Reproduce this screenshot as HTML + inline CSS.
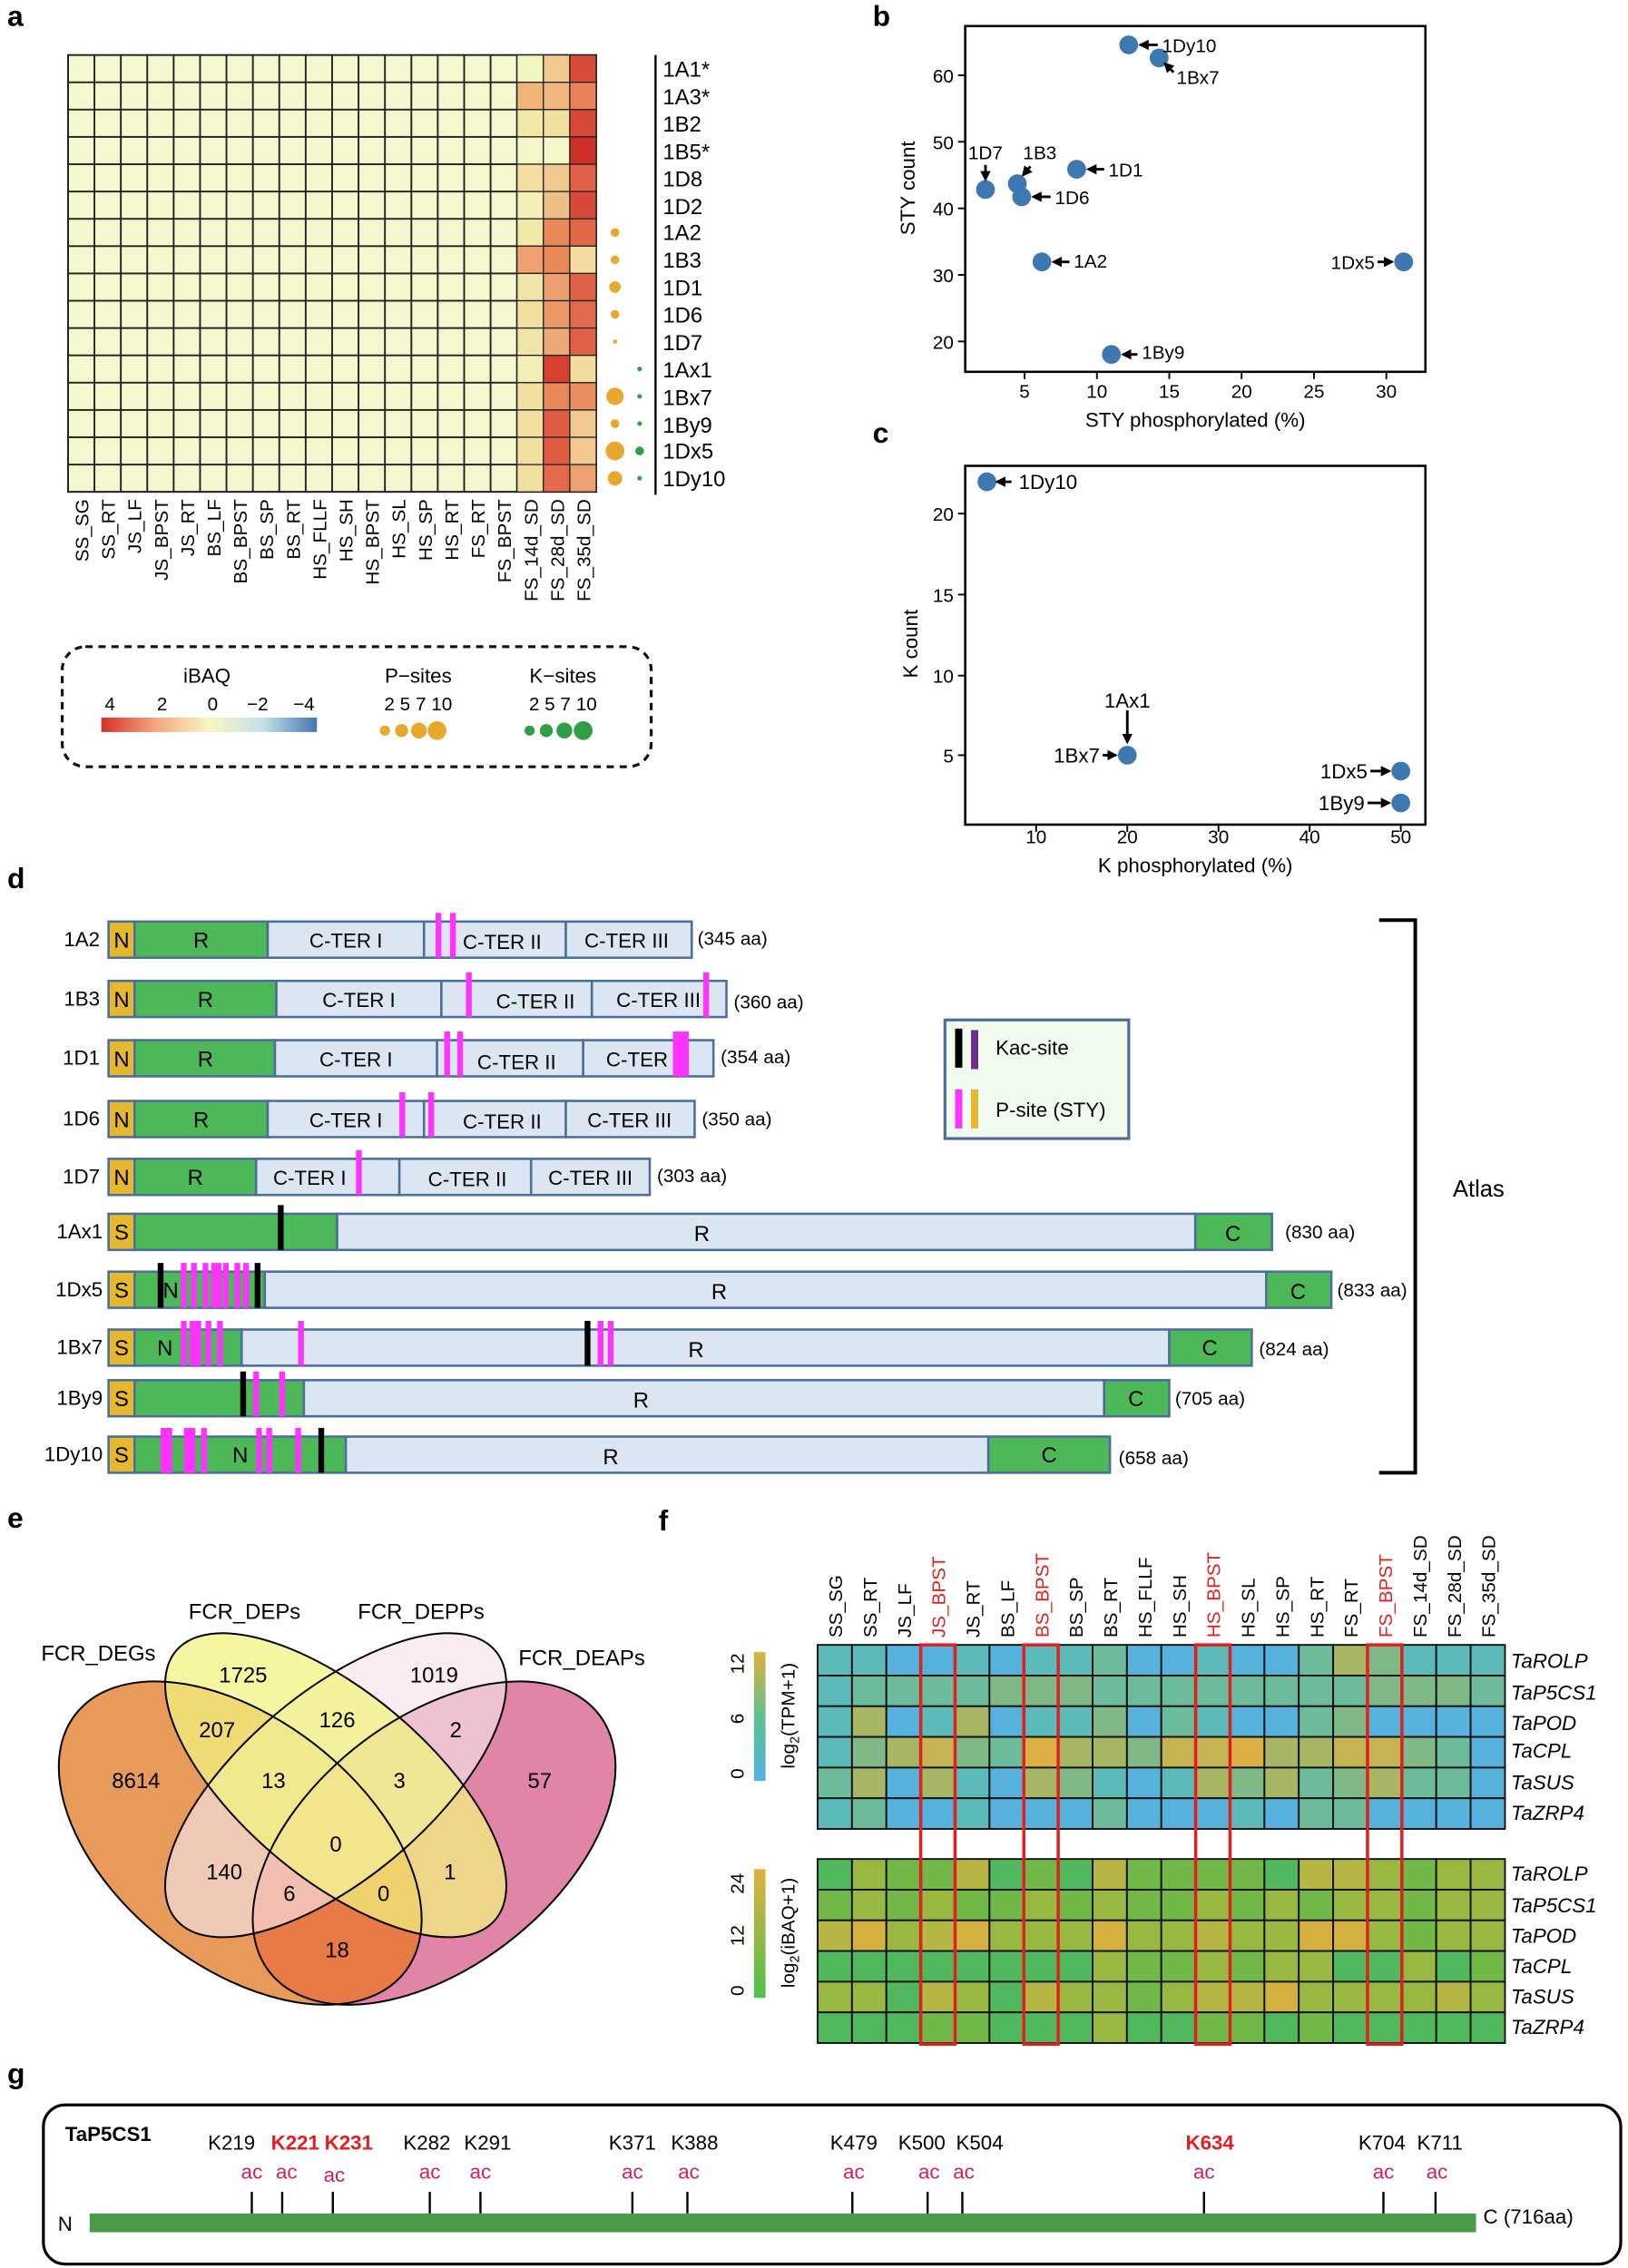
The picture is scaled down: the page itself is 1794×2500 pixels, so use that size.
<!DOCTYPE html>
<html><head><meta charset="utf-8"><style>
body{margin:0;background:#fff}
svg{display:block;font-family:"Liberation Sans",sans-serif}
.c{width:23.75px;height:21.2px;stroke:#111;stroke-width:1.2}
.h{width:18.25px;height:18.875px;stroke:#222;stroke-width:.8}
.pk{fill:#ff33ff}
.bk{fill:#000}
.seg{stroke:#4b6e9a;stroke-width:1.6}
</style></head><body>
<svg width="1794" height="2500" viewBox="0 0 1125 1567.7" xmlns="http://www.w3.org/2000/svg">
<defs>
<pattern id="ga" x="47" y="38" width="18.25" height="18.875" patternUnits="userSpaceOnUse"><rect width="18.25" height="18.875" fill="#f5f8cf" stroke="#222" stroke-width="1.2"/></pattern>
<linearGradient id="ib" x1="0" x2="1"><stop offset="0" stop-color="#d73027"/><stop offset=".25" stop-color="#f4a582"/><stop offset=".5" stop-color="#f7f7c0"/><stop offset=".75" stop-color="#c6e0ea"/><stop offset="1" stop-color="#4575b4"/></linearGradient>
<linearGradient id="tp" x1="0" y1="0" x2="0" y2="1"><stop offset="0" stop-color="#e0b040"/><stop offset=".5" stop-color="#5cc090"/><stop offset="1" stop-color="#56b0e0"/></linearGradient>
<linearGradient id="iq" x1="0" y1="0" x2="0" y2="1"><stop offset="0" stop-color="#e0b040"/><stop offset="1" stop-color="#4cc050"/></linearGradient>
<marker id="ar" viewBox="0 0 10 10" refX="8" refY="5" markerWidth="4" markerHeight="4" orient="auto"><path d="M0,0 L10,5 L0,10 z" fill="#000"/></marker>
<clipPath id="cpO"><ellipse cx="0" cy="0" rx="1" ry="0.6" transform="translate(166,1274) scale(152,135.5) rotate(45)"/></clipPath>
</defs>

<!-- ===== Panel a ===== -->
<text x="5" y="18" font-size="20" font-weight="bold">a</text>
<rect x="47" y="38" width="365" height="302" fill="url(#ga)" stroke="#222" stroke-width="1.2"/>
<g>
<rect class="h" x="357.25" y="38" fill="#f3f5c0"/><rect class="h" x="375.5" y="38" fill="#f0c890"/><rect class="h" x="393.75" y="38" fill="#d94a38"/>
<rect class="h" x="357.25" y="56.875" fill="#f0b478"/><rect class="h" x="375.5" y="56.875" fill="#f0b880"/><rect class="h" x="393.75" y="56.875" fill="#e8805a"/>
<rect class="h" x="357.25" y="75.75" fill="#f4e8a8"/><rect class="h" x="375.5" y="75.75" fill="#f2e0a0"/><rect class="h" x="393.75" y="75.75" fill="#d84838"/>
<rect class="h" x="357.25" y="94.625" fill="#f4f6c8"/><rect class="h" x="375.5" y="94.625" fill="#f4f6c8"/><rect class="h" x="393.75" y="94.625" fill="#cc3028"/>
<rect class="h" x="357.25" y="113.5" fill="#f2dea0"/><rect class="h" x="375.5" y="113.5" fill="#f0c890"/><rect class="h" x="393.75" y="113.5" fill="#e06048"/>
<rect class="h" x="357.25" y="132.375" fill="#f2f0b8"/><rect class="h" x="375.5" y="132.375" fill="#eec088"/><rect class="h" x="393.75" y="132.375" fill="#d84a38"/>
<rect class="h" x="357.25" y="151.25" fill="#f2e8a8"/><rect class="h" x="375.5" y="151.25" fill="#e88858"/><rect class="h" x="393.75" y="151.25" fill="#e06848"/>
<rect class="h" x="357.25" y="170.125" fill="#eea070"/><rect class="h" x="375.5" y="170.125" fill="#e88858"/><rect class="h" x="393.75" y="170.125" fill="#f2dca0"/>
<rect class="h" x="357.25" y="189" fill="#f2e4a8"/><rect class="h" x="375.5" y="189" fill="#eca070"/><rect class="h" x="393.75" y="189" fill="#e06048"/>
<rect class="h" x="357.25" y="207.875" fill="#f2e0a0"/><rect class="h" x="375.5" y="207.875" fill="#ea9868"/><rect class="h" x="393.75" y="207.875" fill="#e26a4c"/>
<rect class="h" x="357.25" y="226.75" fill="#f2e4a8"/><rect class="h" x="375.5" y="226.75" fill="#eca878"/><rect class="h" x="393.75" y="226.75" fill="#e06048"/>
<rect class="h" x="357.25" y="245.625" fill="#f2f0b8"/><rect class="h" x="375.5" y="245.625" fill="#d84030"/><rect class="h" x="393.75" y="245.625" fill="#f2dca0"/>
<rect class="h" x="357.25" y="264.5" fill="#f2e0a0"/><rect class="h" x="375.5" y="264.5" fill="#e88858"/><rect class="h" x="393.75" y="264.5" fill="#e88e60"/>
<rect class="h" x="357.25" y="283.375" fill="#f2e0a0"/><rect class="h" x="375.5" y="283.375" fill="#e05c44"/><rect class="h" x="393.75" y="283.375" fill="#f0c890"/>
<rect class="h" x="357.25" y="302.25" fill="#f2e0a0"/><rect class="h" x="375.5" y="302.25" fill="#e05c44"/><rect class="h" x="393.75" y="302.25" fill="#f0c890"/>
<rect class="h" x="357.25" y="321.125" fill="#f2e0a0"/><rect class="h" x="375.5" y="321.125" fill="#e46a4c"/><rect class="h" x="393.75" y="321.125" fill="#eda070"/>
</g>
<line x1="453" y1="38" x2="453" y2="342" stroke="#000" stroke-width="1.5"/>
<g font-size="15">
<text x="458" y="53">1A1*</text><text x="458" y="72">1A3*</text><text x="458" y="91">1B2</text><text x="458" y="110">1B5*</text>
<text x="458" y="129">1D8</text><text x="458" y="148">1D2</text><text x="458" y="166">1A2</text><text x="458" y="185">1B3</text>
<text x="458" y="204">1D1</text><text x="458" y="223">1D6</text><text x="458" y="242">1D7</text><text x="458" y="261">1Ax1</text>
<text x="458" y="280">1Bx7</text><text x="458" y="299">1By9</text><text x="458" y="317">1Dx5</text><text x="458" y="336">1Dy10</text>
</g>
<g fill="#e8a830">
<circle cx="425" cy="160.7" r="3"/><circle cx="425" cy="179.6" r="3"/><circle cx="425" cy="198.4" r="4"/><circle cx="425" cy="217.3" r="3"/><circle cx="425" cy="236.2" r="1.5"/>
<circle cx="425" cy="274" r="6"/><circle cx="425" cy="292.8" r="3"/><circle cx="425" cy="311.7" r="6.5"/><circle cx="425" cy="330.6" r="5"/>
</g>
<g fill="#2ea043">
<circle cx="442" cy="255" r="1.6"/><circle cx="442" cy="274" r="1.6"/><circle cx="442" cy="292.8" r="1.6"/><circle cx="442" cy="311.7" r="3"/><circle cx="442" cy="330.6" r="1.6"/>
</g>
<g font-size="13" text-anchor="end">
<text transform="translate(61,345) rotate(-90)">SS_SG</text>
<text transform="translate(79.4,345) rotate(-90)">SS_RT</text>
<text transform="translate(97.6,345) rotate(-90)">JS_LF</text>
<text transform="translate(115.9,345) rotate(-90)">JS_BPST</text>
<text transform="translate(134.1,345) rotate(-90)">JS_RT</text>
<text transform="translate(152.4,345) rotate(-90)">BS_LF</text>
<text transform="translate(170.6,345) rotate(-90)">BS_BPST</text>
<text transform="translate(188.9,345) rotate(-90)">BS_SP</text>
<text transform="translate(207.1,345) rotate(-90)">BS_RT</text>
<text transform="translate(225.4,345) rotate(-90)">HS_FLLF</text>
<text transform="translate(243.6,345) rotate(-90)">HS_SH</text>
<text transform="translate(261.9,345) rotate(-90)">HS_BPST</text>
<text transform="translate(280.1,345) rotate(-90)">HS_SL</text>
<text transform="translate(298.4,345) rotate(-90)">HS_SP</text>
<text transform="translate(316.6,345) rotate(-90)">HS_RT</text>
<text transform="translate(334.9,345) rotate(-90)">FS_RT</text>
<text transform="translate(353.1,345) rotate(-90)">FS_BPST</text>
<text transform="translate(371.4,345) rotate(-90)">FS_14d_SD</text>
<text transform="translate(389.6,345) rotate(-90)">FS_28d_SD</text>
<text transform="translate(407.9,345) rotate(-90)">FS_35d_SD</text>
</g>
<rect x="43" y="447" width="407" height="83" rx="16" fill="none" stroke="#111" stroke-width="2" stroke-dasharray="5,4"/>
<g font-size="14" text-anchor="middle">
<text x="143" y="472">iBAQ</text>
<text x="289" y="472">P−sites</text>
<text x="389" y="472">K−sites</text>
</g>
<g font-size="13" text-anchor="middle">
<text x="76" y="491">4</text><text x="112" y="491">2</text><text x="147" y="491">0</text><text x="178" y="491">−2</text><text x="210" y="491">−4</text>
<text x="289" y="491">2 5 7 10</text><text x="389" y="491">2 5 7 10</text>
</g>
<rect x="70" y="496" width="149" height="10" fill="url(#ib)"/>
<g fill="#e8a830"><circle cx="266" cy="505" r="3.5"/><circle cx="277.5" cy="505" r="4.5"/><circle cx="289.5" cy="505" r="5.5"/><circle cx="302" cy="505" r="6.5"/></g>
<g fill="#2ea043"><circle cx="366" cy="505" r="3.5"/><circle cx="377.5" cy="505" r="4.5"/><circle cx="390" cy="505" r="5.5"/><circle cx="403" cy="505" r="6.5"/></g>

<!-- ===== Panel b ===== -->
<text x="603" y="18" font-size="20" font-weight="bold">b</text>
<rect x="667" y="18" width="318" height="239" fill="none" stroke="#000" stroke-width="1.6"/>
<g stroke="#000" stroke-width="1.2">
<line x1="662" y1="52" x2="667" y2="52"/><line x1="662" y1="98" x2="667" y2="98"/><line x1="662" y1="144" x2="667" y2="144"/><line x1="662" y1="190" x2="667" y2="190"/><line x1="662" y1="236" x2="667" y2="236"/>
<line x1="708" y1="257" x2="708" y2="262"/><line x1="758" y1="257" x2="758" y2="262"/><line x1="808" y1="257" x2="808" y2="262"/><line x1="858" y1="257" x2="858" y2="262"/><line x1="908" y1="257" x2="908" y2="262"/><line x1="958" y1="257" x2="958" y2="262"/>
</g>
<g font-size="13" text-anchor="end">
<text x="659" y="57">60</text><text x="659" y="103">50</text><text x="659" y="149">40</text><text x="659" y="195">30</text><text x="659" y="241">20</text>
</g>
<g font-size="13" text-anchor="middle">
<text x="708" y="275">5</text><text x="758" y="275">10</text><text x="808" y="275">15</text><text x="858" y="275">20</text><text x="908" y="275">25</text><text x="958" y="275">30</text>
</g>
<text x="826" y="295" font-size="14" text-anchor="middle">STY phosphorylated (%)</text>
<text transform="translate(632,130) rotate(-90)" font-size="14" text-anchor="middle">STY count</text>
<g fill="#3d78b0">
<circle cx="780" cy="31" r="6.5"/><circle cx="801" cy="40" r="6.5"/><circle cx="681" cy="131" r="6.5"/><circle cx="703" cy="127" r="6.5"/><circle cx="706" cy="136" r="6.5"/><circle cx="744" cy="117" r="6.5"/><circle cx="720" cy="181" r="6.5"/><circle cx="970" cy="181" r="6.5"/><circle cx="768" cy="245" r="6.5"/>
</g>
<g stroke="#000" stroke-width="1.8" marker-end="url(#ar)">
<line x1="800" y1="31" x2="788" y2="31"/><line x1="811" y1="50" x2="805" y2="44"/><line x1="681" y1="114" x2="681" y2="124"/><line x1="712" y1="115" x2="707" y2="121"/>
<line x1="763" y1="117" x2="752" y2="117"/><line x1="726" y1="136" x2="714" y2="136"/><line x1="739" y1="181" x2="728" y2="181"/><line x1="952" y1="181" x2="962" y2="181"/><line x1="786" y1="245" x2="776" y2="245"/>
</g>
<g font-size="13">
<text x="803" y="36">1Dy10</text><text x="813" y="58">1Bx7</text><text x="669" y="110">1D7</text><text x="707" y="110">1B3</text><text x="766" y="122">1D1</text>
<text x="729" y="141">1D6</text><text x="742" y="185">1A2</text><text x="950" y="186" text-anchor="end">1Dx5</text><text x="789" y="248">1By9</text>
</g>

<!-- ===== Panel c ===== -->
<text x="603" y="306" font-size="20" font-weight="bold">c</text>
<rect x="667" y="322" width="318" height="248" fill="none" stroke="#000" stroke-width="1.6"/>
<g stroke="#000" stroke-width="1.2">
<line x1="662" y1="355" x2="667" y2="355"/><line x1="662" y1="411" x2="667" y2="411"/><line x1="662" y1="467" x2="667" y2="467"/><line x1="662" y1="522" x2="667" y2="522"/>
<line x1="716" y1="570" x2="716" y2="575"/><line x1="779" y1="570" x2="779" y2="575"/><line x1="842" y1="570" x2="842" y2="575"/><line x1="905" y1="570" x2="905" y2="575"/><line x1="968" y1="570" x2="968" y2="575"/>
</g>
<g font-size="13" text-anchor="end">
<text x="659" y="360">20</text><text x="659" y="416">15</text><text x="659" y="472">10</text><text x="659" y="527">5</text>
</g>
<g font-size="13" text-anchor="middle">
<text x="716" y="583">10</text><text x="779" y="583">20</text><text x="842" y="583">30</text><text x="905" y="583">40</text><text x="968" y="583">50</text>
</g>
<text x="826" y="603" font-size="14" text-anchor="middle">K phosphorylated (%)</text>
<text transform="translate(634,445) rotate(-90)" font-size="14" text-anchor="middle">K count</text>
<g fill="#3d78b0"><circle cx="682" cy="333" r="6.5"/><circle cx="779" cy="522" r="6.5"/><circle cx="968" cy="533" r="6.5"/><circle cx="968" cy="555" r="6.5"/></g>
<g stroke="#000" stroke-width="1.8" marker-end="url(#ar)">
<line x1="699" y1="333" x2="689" y2="333"/><line x1="779" y1="491" x2="779" y2="513"/><line x1="762" y1="522" x2="771" y2="522"/><line x1="947" y1="533" x2="960" y2="533"/><line x1="945" y1="555" x2="960" y2="555"/>
</g>
<g font-size="14">
<text x="704" y="338">1Dy10</text><text x="779" y="489" text-anchor="middle">1Ax1</text><text x="760" y="527" text-anchor="end">1Bx7</text>
<text x="945" y="538" text-anchor="end">1Dx5</text><text x="943" y="560" text-anchor="end">1By9</text>
</g>

<!-- ===== Panel d ===== -->
<text x="5" y="614" font-size="20" font-weight="bold">d</text>
<g font-size="14" text-anchor="end">
<text x="69" y="654">1A2</text><text x="69" y="695">1B3</text><text x="69" y="736">1D1</text><text x="69" y="778">1D6</text><text x="69" y="818">1D7</text>
<text x="71" y="856">1Ax1</text><text x="71" y="896">1Dx5</text><text x="71" y="936">1Bx7</text><text x="71" y="971">1By9</text><text x="71" y="1010">1Dy10</text>
</g>
<g class="seg">
<rect x="75" y="637" width="18" height="25" fill="#e6b830"/><rect x="93" y="637" width="92" height="25" fill="#4cb858"/><rect x="185" y="637" width="108" height="25" fill="#dce6f2"/><rect x="293" y="637" width="98" height="25" fill="#dce6f2"/><rect x="391" y="637" width="87" height="25" fill="#dce6f2"/>
<rect x="75" y="678" width="18" height="25" fill="#e6b830"/><rect x="93" y="678" width="98" height="25" fill="#4cb858"/><rect x="191" y="678" width="114" height="25" fill="#dce6f2"/><rect x="305" y="678" width="104" height="25" fill="#dce6f2"/><rect x="409" y="678" width="93" height="25" fill="#dce6f2"/>
<rect x="75" y="719" width="18" height="25" fill="#e6b830"/><rect x="93" y="719" width="97" height="25" fill="#4cb858"/><rect x="190" y="719" width="112" height="25" fill="#dce6f2"/><rect x="302" y="719" width="101" height="25" fill="#dce6f2"/><rect x="403" y="719" width="90" height="25" fill="#dce6f2"/>
<rect x="75" y="761" width="18" height="25" fill="#e6b830"/><rect x="93" y="761" width="92" height="25" fill="#4cb858"/><rect x="185" y="761" width="108" height="25" fill="#dce6f2"/><rect x="293" y="761" width="98" height="25" fill="#dce6f2"/><rect x="391" y="761" width="89" height="25" fill="#dce6f2"/>
<rect x="75" y="801" width="18" height="25" fill="#e6b830"/><rect x="93" y="801" width="84" height="25" fill="#4cb858"/><rect x="177" y="801" width="99" height="25" fill="#dce6f2"/><rect x="276" y="801" width="91" height="25" fill="#dce6f2"/><rect x="367" y="801" width="82" height="25" fill="#dce6f2"/>
<rect x="75" y="839" width="18" height="25" fill="#e6b830"/><rect x="93" y="839" width="140" height="25" fill="#4cb858"/><rect x="233" y="839" width="593" height="25" fill="#dce6f2"/><rect x="826" y="839" width="53" height="25" fill="#4cb858"/>
<rect x="75" y="879" width="18" height="25" fill="#e6b830"/><rect x="93" y="879" width="90" height="25" fill="#4cb858"/><rect x="183" y="879" width="692" height="25" fill="#dce6f2"/><rect x="875" y="879" width="45" height="25" fill="#4cb858"/>
<rect x="75" y="919" width="18" height="25" fill="#e6b830"/><rect x="93" y="919" width="74" height="25" fill="#4cb858"/><rect x="167" y="919" width="641" height="25" fill="#dce6f2"/><rect x="808" y="919" width="57" height="25" fill="#4cb858"/>
<rect x="75" y="954" width="18" height="25" fill="#e6b830"/><rect x="93" y="954" width="117" height="25" fill="#4cb858"/><rect x="210" y="954" width="553" height="25" fill="#dce6f2"/><rect x="763" y="954" width="45" height="25" fill="#4cb858"/>
<rect x="75" y="993" width="18" height="25" fill="#e6b830"/><rect x="93" y="993" width="146" height="25" fill="#4cb858"/><rect x="239" y="993" width="444" height="25" fill="#dce6f2"/><rect x="683" y="993" width="84" height="25" fill="#4cb858"/>
</g>
<g font-size="15" text-anchor="middle">
<text x="84" y="655">N</text><text x="139" y="655">R</text><text x="239" y="655" font-size="14">C-TER I</text><text x="347" y="656" font-size="14">C-TER II</text><text x="433" y="655" font-size="14">C-TER III</text>
<text x="84" y="696">N</text><text x="142" y="696">R</text><text x="248" y="696" font-size="14">C-TER I</text><text x="370" y="697" font-size="14">C-TER II</text><text x="455" y="696" font-size="14">C-TER III</text>
<text x="84" y="737">N</text><text x="142" y="737">R</text><text x="246" y="737" font-size="14">C-TER I</text><text x="357" y="739" font-size="14">C-TER II</text><text x="448" y="737" font-size="14">C-TER III</text>
<text x="84" y="779">N</text><text x="139" y="779">R</text><text x="239" y="779" font-size="14">C-TER I</text><text x="347" y="780" font-size="14">C-TER II</text><text x="435" y="779" font-size="14">C-TER III</text>
<text x="84" y="819">N</text><text x="135" y="819">R</text><text x="214" y="819" font-size="14">C-TER I</text><text x="323" y="820" font-size="14">C-TER II</text><text x="408" y="819" font-size="14">C-TER III</text>
<text x="84" y="857">S</text><text x="485" y="858">R</text><text x="852" y="858">C</text>
<text x="84" y="897">S</text><text x="118" y="897">N</text><text x="497" y="898">R</text><text x="897" y="898">C</text>
<text x="84" y="937">S</text><text x="114" y="937">N</text><text x="481" y="938">R</text><text x="836" y="937">C</text>
<text x="84" y="972">S</text><text x="443" y="973">R</text><text x="785" y="972">C</text>
<text x="84" y="1011">S</text><text x="166" y="1011">N</text><text x="422" y="1012">R</text><text x="725" y="1011">C</text>
</g>
<g font-size="13">
<text x="482" y="653">(345 aa)</text><text x="507" y="697">(360 aa)</text><text x="498" y="735">(354 aa)</text><text x="485" y="778">(350 aa)</text><text x="454" y="817">(303 aa)</text>
<text x="888" y="856">(830 aa)</text><text x="924" y="896">(833 aa)</text><text x="870" y="937">(824 aa)</text><text x="812" y="971">(705 aa)</text><text x="773" y="1012">(658 aa)</text>
</g>
<g class="pk">
<rect x="301" y="631" width="4" height="31"/><rect x="311" y="631" width="4" height="31"/>
<rect x="322" y="672" width="4" height="31"/><rect x="486" y="672" width="4" height="31"/>
<rect x="307" y="713" width="4" height="31"/><rect x="316" y="713" width="4" height="31"/><rect x="465" y="713" width="11" height="31"/>
<rect x="276" y="755" width="4" height="31"/><rect x="296" y="755" width="4" height="31"/>
<rect x="246" y="795" width="4" height="31"/>
<rect x="125" y="873" width="4" height="31"/><rect x="132" y="873" width="4" height="31"/><rect x="140" y="873" width="4" height="31"/><rect x="146" y="873" width="7" height="31"/><rect x="154" y="873" width="4" height="31"/><rect x="162" y="873" width="4" height="31"/><rect x="168" y="873" width="4" height="31"/>
<rect x="125" y="913" width="4" height="31"/><rect x="131" y="913" width="8" height="31"/><rect x="142" y="913" width="4" height="31"/><rect x="150" y="913" width="4" height="31"/><rect x="206" y="913" width="4" height="31"/><rect x="413" y="913" width="4" height="31"/><rect x="420" y="913" width="4" height="31"/>
<rect x="175" y="948" width="4" height="31"/><rect x="193" y="948" width="4" height="31"/>
<rect x="111" y="987" width="8" height="31"/><rect x="127" y="987" width="8" height="31"/><rect x="139" y="987" width="4" height="31"/><rect x="177" y="987" width="4" height="31"/><rect x="184" y="987" width="4" height="31"/><rect x="204" y="987" width="4" height="31"/>
</g>
<g class="bk">
<rect x="192" y="833" width="4" height="31"/>
<rect x="109" y="873" width="4" height="31"/><rect x="176" y="873" width="4" height="31"/>
<rect x="404" y="913" width="4" height="31"/>
<rect x="166" y="948" width="4" height="31"/>
<rect x="220" y="987" width="4" height="31"/>
</g>
<rect x="653" y="705" width="127" height="82" fill="#f2fbf0" stroke="#4b6e9a" stroke-width="2"/>
<rect x="660" y="711" width="5" height="27" fill="#000"/><rect x="671" y="712" width="5" height="27" fill="#6a3090"/>
<rect x="660" y="753" width="5" height="27" fill="#ff33ff"/><rect x="671" y="753" width="5" height="27" fill="#e6b830"/>
<text x="688" y="729" font-size="14">Kac-site</text>
<text x="688" y="772" font-size="14">P-site (STY)</text>
<path d="M953,636 H978 V1018 H953" fill="none" stroke="#000" stroke-width="2.5"/>
<text x="1004" y="827" font-size="16">Atlas</text>

<!-- ===== Panel e ===== -->
<text x="5" y="1056" font-size="20" font-weight="bold">e</text>
<ellipse cx="0" cy="0" rx="1" ry="0.6" transform="translate(166,1274) scale(152,135.5) rotate(45)" fill="#e89a5a"/>
<ellipse cx="0" cy="0" rx="1" ry="0.6" transform="translate(300,1274) scale(152,135.5) rotate(-45)" fill="#e085a8"/>
<g clip-path="url(#cpO)">
<ellipse cx="0" cy="0" rx="1" ry="0.6" transform="translate(300,1274) scale(152,135.5) rotate(-45)" fill="#e77a46"/>
</g>
<ellipse cx="0" cy="0" rx="1" ry="0.45" transform="translate(232,1234) scale(152,135.5) rotate(-45)" fill="#f6e4ea" fill-opacity="0.65"/>
<ellipse cx="0" cy="0" rx="1" ry="0.45" transform="translate(232,1234) scale(152,135.5) rotate(45)" fill="#f2f47e" fill-opacity="0.72"/>
<g fill="none" stroke="#000" stroke-width="2">
<ellipse cx="0" cy="0" rx="1" ry="0.6" transform="translate(166,1274) scale(152,135.5) rotate(45)" vector-effect="non-scaling-stroke"/>
<ellipse cx="0" cy="0" rx="1" ry="0.6" transform="translate(300,1274) scale(152,135.5) rotate(-45)" vector-effect="non-scaling-stroke"/>
<ellipse cx="0" cy="0" rx="1" ry="0.45" transform="translate(232,1234) scale(152,135.5) rotate(-45)" vector-effect="non-scaling-stroke"/>
<ellipse cx="0" cy="0" rx="1" ry="0.45" transform="translate(232,1234) scale(152,135.5) rotate(45)" vector-effect="non-scaling-stroke"/>
</g>
<g font-size="15" text-anchor="middle">
<text x="68" y="1148">FCR_DEGs</text><text x="169" y="1119">FCR_DEPs</text><text x="291" y="1119">FCR_DEPPs</text><text x="402" y="1151">FCR_DEAPs</text>
<text x="94" y="1236">8614</text><text x="168" y="1163">1725</text><text x="300" y="1163">1019</text><text x="373" y="1236">57</text>
<text x="150" y="1201">207</text><text x="233" y="1194">126</text><text x="315" y="1201">2</text>
<text x="189" y="1236">13</text><text x="276" y="1236">3</text><text x="232" y="1280">0</text>
<text x="155" y="1299">140</text><text x="200" y="1314">6</text><text x="265" y="1314">0</text><text x="311" y="1299">1</text><text x="233" y="1353">18</text>
</g>

<!-- ===== Panel f ===== -->
<text x="455" y="1058" font-size="20" font-weight="bold">f</text>
<g font-size="13">
<text transform="translate(582,1132) rotate(-90)">SS_SG</text>
<text transform="translate(605.7,1132) rotate(-90)">SS_RT</text>
<text transform="translate(629.5,1132) rotate(-90)">JS_LF</text>
<text transform="translate(653.2,1132) rotate(-90)" fill="#e02020">JS_BPST</text>
<text transform="translate(677,1132) rotate(-90)">JS_RT</text>
<text transform="translate(700.7,1132) rotate(-90)">BS_LF</text>
<text transform="translate(724.5,1132) rotate(-90)" fill="#e02020">BS_BPST</text>
<text transform="translate(748.2,1132) rotate(-90)">BS_SP</text>
<text transform="translate(772,1132) rotate(-90)">BS_RT</text>
<text transform="translate(795.7,1132) rotate(-90)">HS_FLLF</text>
<text transform="translate(819.5,1132) rotate(-90)">HS_SH</text>
<text transform="translate(843.2,1132) rotate(-90)" fill="#e02020">HS_BPST</text>
<text transform="translate(867,1132) rotate(-90)">HS_SL</text>
<text transform="translate(890.7,1132) rotate(-90)">HS_SP</text>
<text transform="translate(914.5,1132) rotate(-90)">HS_RT</text>
<text transform="translate(938.2,1132) rotate(-90)">FS_RT</text>
<text transform="translate(962,1132) rotate(-90)" fill="#e02020">FS_BPST</text>
<text transform="translate(985.7,1132) rotate(-90)">FS_14d_SD</text>
<text transform="translate(1009.5,1132) rotate(-90)">FS_28d_SD</text>
<text transform="translate(1033.2,1132) rotate(-90)">FS_35d_SD</text>
</g>
<g>
<rect class="c" x="565" y="1137" fill="#5cbab8"/><rect class="c" x="588.75" y="1137" fill="#5cbab8"/><rect class="c" x="612.5" y="1137" fill="#56b2dc"/><rect class="c" x="636.25" y="1137" fill="#56b2dc"/><rect class="c" x="660" y="1137" fill="#5cbab8"/><rect class="c" x="683.75" y="1137" fill="#56b2dc"/><rect class="c" x="707.5" y="1137" fill="#5cbab8"/><rect class="c" x="731.25" y="1137" fill="#5cbab8"/><rect class="c" x="755" y="1137" fill="#6cbc9c"/><rect class="c" x="778.75" y="1137" fill="#56b2dc"/><rect class="c" x="802.5" y="1137" fill="#56b2dc"/><rect class="c" x="826.25" y="1137" fill="#5cbab8"/><rect class="c" x="850" y="1137" fill="#56b2dc"/><rect class="c" x="873.75" y="1137" fill="#56b2dc"/><rect class="c" x="897.5" y="1137" fill="#6cbc9c"/><rect class="c" x="921.25" y="1137" fill="#a6b662"/><rect class="c" x="945" y="1137" fill="#80b888"/><rect class="c" x="968.75" y="1137" fill="#5cbab8"/><rect class="c" x="992.5" y="1137" fill="#5cbab8"/><rect class="c" x="1016.25" y="1137" fill="#5cbab8"/>
<rect class="c" x="565" y="1158.2" fill="#5cbab8"/><rect class="c" x="588.75" y="1158.2" fill="#6cbc9c"/><rect class="c" x="612.5" y="1158.2" fill="#6cbc9c"/><rect class="c" x="636.25" y="1158.2" fill="#6cbc9c"/><rect class="c" x="660" y="1158.2" fill="#6cbc9c"/><rect class="c" x="683.75" y="1158.2" fill="#80b888"/><rect class="c" x="707.5" y="1158.2" fill="#80b888"/><rect class="c" x="731.25" y="1158.2" fill="#80b888"/><rect class="c" x="755" y="1158.2" fill="#6cbc9c"/><rect class="c" x="778.75" y="1158.2" fill="#6cbc9c"/><rect class="c" x="802.5" y="1158.2" fill="#6cbc9c"/><rect class="c" x="826.25" y="1158.2" fill="#6cbc9c"/><rect class="c" x="850" y="1158.2" fill="#6cbc9c"/><rect class="c" x="873.75" y="1158.2" fill="#6cbc9c"/><rect class="c" x="897.5" y="1158.2" fill="#6cbc9c"/><rect class="c" x="921.25" y="1158.2" fill="#6cbc9c"/><rect class="c" x="945" y="1158.2" fill="#80b888"/><rect class="c" x="968.75" y="1158.2" fill="#80b888"/><rect class="c" x="992.5" y="1158.2" fill="#80b888"/><rect class="c" x="1016.25" y="1158.2" fill="#6cbc9c"/>
<rect class="c" x="565" y="1179.4" fill="#5cbab8"/><rect class="c" x="588.75" y="1179.4" fill="#a6b662"/><rect class="c" x="612.5" y="1179.4" fill="#56b2dc"/><rect class="c" x="636.25" y="1179.4" fill="#5cbab8"/><rect class="c" x="660" y="1179.4" fill="#a6b662"/><rect class="c" x="683.75" y="1179.4" fill="#56b2dc"/><rect class="c" x="707.5" y="1179.4" fill="#5cbab8"/><rect class="c" x="731.25" y="1179.4" fill="#5cbab8"/><rect class="c" x="755" y="1179.4" fill="#80b888"/><rect class="c" x="778.75" y="1179.4" fill="#56b2dc"/><rect class="c" x="802.5" y="1179.4" fill="#6cbc9c"/><rect class="c" x="826.25" y="1179.4" fill="#5cbab8"/><rect class="c" x="850" y="1179.4" fill="#56b2dc"/><rect class="c" x="873.75" y="1179.4" fill="#56b2dc"/><rect class="c" x="897.5" y="1179.4" fill="#6cbc9c"/><rect class="c" x="921.25" y="1179.4" fill="#80b888"/><rect class="c" x="945" y="1179.4" fill="#56b2dc"/><rect class="c" x="968.75" y="1179.4" fill="#56b2dc"/><rect class="c" x="992.5" y="1179.4" fill="#56b2dc"/><rect class="c" x="1016.25" y="1179.4" fill="#56b2dc"/>
<rect class="c" x="565" y="1200.6" fill="#5cbab8"/><rect class="c" x="588.75" y="1200.6" fill="#80b888"/><rect class="c" x="612.5" y="1200.6" fill="#a6b662"/><rect class="c" x="636.25" y="1200.6" fill="#c4b452"/><rect class="c" x="660" y="1200.6" fill="#80b888"/><rect class="c" x="683.75" y="1200.6" fill="#6cbc9c"/><rect class="c" x="707.5" y="1200.6" fill="#dcb044"/><rect class="c" x="731.25" y="1200.6" fill="#a6b662"/><rect class="c" x="755" y="1200.6" fill="#a6b662"/><rect class="c" x="778.75" y="1200.6" fill="#80b888"/><rect class="c" x="802.5" y="1200.6" fill="#c4b452"/><rect class="c" x="826.25" y="1200.6" fill="#c4b452"/><rect class="c" x="850" y="1200.6" fill="#dcb044"/><rect class="c" x="873.75" y="1200.6" fill="#a6b662"/><rect class="c" x="897.5" y="1200.6" fill="#a6b662"/><rect class="c" x="921.25" y="1200.6" fill="#c4b452"/><rect class="c" x="945" y="1200.6" fill="#c4b452"/><rect class="c" x="968.75" y="1200.6" fill="#80b888"/><rect class="c" x="992.5" y="1200.6" fill="#6cbc9c"/><rect class="c" x="1016.25" y="1200.6" fill="#56b2dc"/>
<rect class="c" x="565" y="1221.8" fill="#6cbc9c"/><rect class="c" x="588.75" y="1221.8" fill="#a6b662"/><rect class="c" x="612.5" y="1221.8" fill="#56b2dc"/><rect class="c" x="636.25" y="1221.8" fill="#a6b662"/><rect class="c" x="660" y="1221.8" fill="#5cbab8"/><rect class="c" x="683.75" y="1221.8" fill="#56b2dc"/><rect class="c" x="707.5" y="1221.8" fill="#a6b662"/><rect class="c" x="731.25" y="1221.8" fill="#80b888"/><rect class="c" x="755" y="1221.8" fill="#5cbab8"/><rect class="c" x="778.75" y="1221.8" fill="#56b2dc"/><rect class="c" x="802.5" y="1221.8" fill="#5cbab8"/><rect class="c" x="826.25" y="1221.8" fill="#a6b662"/><rect class="c" x="850" y="1221.8" fill="#80b888"/><rect class="c" x="873.75" y="1221.8" fill="#a6b662"/><rect class="c" x="897.5" y="1221.8" fill="#6cbc9c"/><rect class="c" x="921.25" y="1221.8" fill="#80b888"/><rect class="c" x="945" y="1221.8" fill="#a6b662"/><rect class="c" x="968.75" y="1221.8" fill="#6cbc9c"/><rect class="c" x="992.5" y="1221.8" fill="#6cbc9c"/><rect class="c" x="1016.25" y="1221.8" fill="#56b2dc"/>
<rect class="c" x="565" y="1243" fill="#5cbab8"/><rect class="c" x="588.75" y="1243" fill="#6cbc9c"/><rect class="c" x="612.5" y="1243" fill="#56b2dc"/><rect class="c" x="636.25" y="1243" fill="#56b2dc"/><rect class="c" x="660" y="1243" fill="#5cbab8"/><rect class="c" x="683.75" y="1243" fill="#56b2dc"/><rect class="c" x="707.5" y="1243" fill="#56b2dc"/><rect class="c" x="731.25" y="1243" fill="#56b2dc"/><rect class="c" x="755" y="1243" fill="#6cbc9c"/><rect class="c" x="778.75" y="1243" fill="#56b2dc"/><rect class="c" x="802.5" y="1243" fill="#56b2dc"/><rect class="c" x="826.25" y="1243" fill="#56b2dc"/><rect class="c" x="850" y="1243" fill="#5cbab8"/><rect class="c" x="873.75" y="1243" fill="#56b2dc"/><rect class="c" x="897.5" y="1243" fill="#6cbc9c"/><rect class="c" x="921.25" y="1243" fill="#6cbc9c"/><rect class="c" x="945" y="1243" fill="#56b2dc"/><rect class="c" x="968.75" y="1243" fill="#56b2dc"/><rect class="c" x="992.5" y="1243" fill="#56b2dc"/><rect class="c" x="1016.25" y="1243" fill="#56b2dc"/>
</g>
<g>
<rect class="c" x="565" y="1285" fill="#52b85e"/><rect class="c" x="588.75" y="1285" fill="#98b842"/><rect class="c" x="612.5" y="1285" fill="#72b848"/><rect class="c" x="636.25" y="1285" fill="#72b848"/><rect class="c" x="660" y="1285" fill="#b6b644"/><rect class="c" x="683.75" y="1285" fill="#52b85e"/><rect class="c" x="707.5" y="1285" fill="#72b848"/><rect class="c" x="731.25" y="1285" fill="#52b85e"/><rect class="c" x="755" y="1285" fill="#b6b644"/><rect class="c" x="778.75" y="1285" fill="#72b848"/><rect class="c" x="802.5" y="1285" fill="#72b848"/><rect class="c" x="826.25" y="1285" fill="#72b848"/><rect class="c" x="850" y="1285" fill="#72b848"/><rect class="c" x="873.75" y="1285" fill="#52b85e"/><rect class="c" x="897.5" y="1285" fill="#b6b644"/><rect class="c" x="921.25" y="1285" fill="#b6b644"/><rect class="c" x="945" y="1285" fill="#98b842"/><rect class="c" x="968.75" y="1285" fill="#72b848"/><rect class="c" x="992.5" y="1285" fill="#98b842"/><rect class="c" x="1016.25" y="1285" fill="#98b842"/>
<rect class="c" x="565" y="1306.2" fill="#72b848"/><rect class="c" x="588.75" y="1306.2" fill="#98b842"/><rect class="c" x="612.5" y="1306.2" fill="#72b848"/><rect class="c" x="636.25" y="1306.2" fill="#98b842"/><rect class="c" x="660" y="1306.2" fill="#72b848"/><rect class="c" x="683.75" y="1306.2" fill="#72b848"/><rect class="c" x="707.5" y="1306.2" fill="#98b842"/><rect class="c" x="731.25" y="1306.2" fill="#72b848"/><rect class="c" x="755" y="1306.2" fill="#98b842"/><rect class="c" x="778.75" y="1306.2" fill="#72b848"/><rect class="c" x="802.5" y="1306.2" fill="#72b848"/><rect class="c" x="826.25" y="1306.2" fill="#98b842"/><rect class="c" x="850" y="1306.2" fill="#72b848"/><rect class="c" x="873.75" y="1306.2" fill="#98b842"/><rect class="c" x="897.5" y="1306.2" fill="#72b848"/><rect class="c" x="921.25" y="1306.2" fill="#98b842"/><rect class="c" x="945" y="1306.2" fill="#98b842"/><rect class="c" x="968.75" y="1306.2" fill="#72b848"/><rect class="c" x="992.5" y="1306.2" fill="#98b842"/><rect class="c" x="1016.25" y="1306.2" fill="#98b842"/>
<rect class="c" x="565" y="1327.4" fill="#b6b644"/><rect class="c" x="588.75" y="1327.4" fill="#d4b040"/><rect class="c" x="612.5" y="1327.4" fill="#98b842"/><rect class="c" x="636.25" y="1327.4" fill="#b6b644"/><rect class="c" x="660" y="1327.4" fill="#d4b040"/><rect class="c" x="683.75" y="1327.4" fill="#98b842"/><rect class="c" x="707.5" y="1327.4" fill="#98b842"/><rect class="c" x="731.25" y="1327.4" fill="#98b842"/><rect class="c" x="755" y="1327.4" fill="#d4b040"/><rect class="c" x="778.75" y="1327.4" fill="#98b842"/><rect class="c" x="802.5" y="1327.4" fill="#98b842"/><rect class="c" x="826.25" y="1327.4" fill="#b6b644"/><rect class="c" x="850" y="1327.4" fill="#98b842"/><rect class="c" x="873.75" y="1327.4" fill="#98b842"/><rect class="c" x="897.5" y="1327.4" fill="#d4b040"/><rect class="c" x="921.25" y="1327.4" fill="#d4b040"/><rect class="c" x="945" y="1327.4" fill="#98b842"/><rect class="c" x="968.75" y="1327.4" fill="#72b848"/><rect class="c" x="992.5" y="1327.4" fill="#98b842"/><rect class="c" x="1016.25" y="1327.4" fill="#98b842"/>
<rect class="c" x="565" y="1348.6" fill="#52b85e"/><rect class="c" x="588.75" y="1348.6" fill="#52b85e"/><rect class="c" x="612.5" y="1348.6" fill="#52b85e"/><rect class="c" x="636.25" y="1348.6" fill="#52b85e"/><rect class="c" x="660" y="1348.6" fill="#52b85e"/><rect class="c" x="683.75" y="1348.6" fill="#52b85e"/><rect class="c" x="707.5" y="1348.6" fill="#52b85e"/><rect class="c" x="731.25" y="1348.6" fill="#52b85e"/><rect class="c" x="755" y="1348.6" fill="#98b842"/><rect class="c" x="778.75" y="1348.6" fill="#72b848"/><rect class="c" x="802.5" y="1348.6" fill="#72b848"/><rect class="c" x="826.25" y="1348.6" fill="#98b842"/><rect class="c" x="850" y="1348.6" fill="#72b848"/><rect class="c" x="873.75" y="1348.6" fill="#98b842"/><rect class="c" x="897.5" y="1348.6" fill="#98b842"/><rect class="c" x="921.25" y="1348.6" fill="#52b85e"/><rect class="c" x="945" y="1348.6" fill="#52b85e"/><rect class="c" x="968.75" y="1348.6" fill="#98b842"/><rect class="c" x="992.5" y="1348.6" fill="#52b85e"/><rect class="c" x="1016.25" y="1348.6" fill="#72b848"/>
<rect class="c" x="565" y="1369.8" fill="#98b842"/><rect class="c" x="588.75" y="1369.8" fill="#98b842"/><rect class="c" x="612.5" y="1369.8" fill="#52b85e"/><rect class="c" x="636.25" y="1369.8" fill="#b6b644"/><rect class="c" x="660" y="1369.8" fill="#98b842"/><rect class="c" x="683.75" y="1369.8" fill="#52b85e"/><rect class="c" x="707.5" y="1369.8" fill="#b6b644"/><rect class="c" x="731.25" y="1369.8" fill="#98b842"/><rect class="c" x="755" y="1369.8" fill="#98b842"/><rect class="c" x="778.75" y="1369.8" fill="#72b848"/><rect class="c" x="802.5" y="1369.8" fill="#98b842"/><rect class="c" x="826.25" y="1369.8" fill="#b6b644"/><rect class="c" x="850" y="1369.8" fill="#b6b644"/><rect class="c" x="873.75" y="1369.8" fill="#d4b040"/><rect class="c" x="897.5" y="1369.8" fill="#98b842"/><rect class="c" x="921.25" y="1369.8" fill="#98b842"/><rect class="c" x="945" y="1369.8" fill="#98b842"/><rect class="c" x="968.75" y="1369.8" fill="#98b842"/><rect class="c" x="992.5" y="1369.8" fill="#b6b644"/><rect class="c" x="1016.25" y="1369.8" fill="#98b842"/>
<rect class="c" x="565" y="1391" fill="#52b85e"/><rect class="c" x="588.75" y="1391" fill="#52b85e"/><rect class="c" x="612.5" y="1391" fill="#52b85e"/><rect class="c" x="636.25" y="1391" fill="#72b848"/><rect class="c" x="660" y="1391" fill="#72b848"/><rect class="c" x="683.75" y="1391" fill="#52b85e"/><rect class="c" x="707.5" y="1391" fill="#52b85e"/><rect class="c" x="731.25" y="1391" fill="#52b85e"/><rect class="c" x="755" y="1391" fill="#98b842"/><rect class="c" x="778.75" y="1391" fill="#52b85e"/><rect class="c" x="802.5" y="1391" fill="#52b85e"/><rect class="c" x="826.25" y="1391" fill="#72b848"/><rect class="c" x="850" y="1391" fill="#72b848"/><rect class="c" x="873.75" y="1391" fill="#52b85e"/><rect class="c" x="897.5" y="1391" fill="#72b848"/><rect class="c" x="921.25" y="1391" fill="#52b85e"/><rect class="c" x="945" y="1391" fill="#52b85e"/><rect class="c" x="968.75" y="1391" fill="#52b85e"/><rect class="c" x="992.5" y="1391" fill="#52b85e"/><rect class="c" x="1016.25" y="1391" fill="#52b85e"/>
</g>
<g fill="none" stroke="#e02020" stroke-width="2.2">
<rect x="636.25" y="1137" width="23.75" height="276"/><rect x="707.5" y="1137" width="23.75" height="276"/><rect x="826.25" y="1137" width="23.75" height="276"/><rect x="945" y="1137" width="23.75" height="276"/>
</g>
<g font-size="14" font-style="italic">
<text x="1044" y="1153">TaROLP</text><text x="1044" y="1175">TaP5CS1</text><text x="1044" y="1196">TaPOD</text><text x="1044" y="1215">TaCPL</text><text x="1044" y="1237">TaSUS</text><text x="1044" y="1258">TaZRP4</text>
<text x="1044" y="1300">TaROLP</text><text x="1044" y="1322">TaP5CS1</text><text x="1044" y="1343">TaPOD</text><text x="1044" y="1364">TaCPL</text><text x="1044" y="1385">TaSUS</text><text x="1044" y="1406">TaZRP4</text>
</g>
<rect x="521" y="1142" width="8" height="89" fill="url(#tp)"/>
<rect x="521" y="1292" width="8" height="89" fill="url(#iq)"/>
<g font-size="13" text-anchor="middle">
<text transform="translate(514,1150) rotate(-90)">12</text><text transform="translate(514,1188) rotate(-90)">6</text><text transform="translate(514,1226) rotate(-90)">0</text>
<text transform="translate(514,1302) rotate(-90)">24</text><text transform="translate(514,1338) rotate(-90)">12</text><text transform="translate(514,1376) rotate(-90)">0</text>
<text transform="translate(549,1186) rotate(-90)">log<tspan font-size="9" dy="3">2</tspan><tspan dy="-3">(TPM+1)</tspan></text>
<text transform="translate(549,1336) rotate(-90)">log<tspan font-size="9" dy="3">2</tspan><tspan dy="-3">(iBAQ+1)</tspan></text>
</g>

<!-- ===== Panel g ===== -->
<text x="5" y="1440" font-size="20" font-weight="bold">g</text>
<rect x="30" y="1455" width="1090" height="110" rx="15" fill="none" stroke="#000" stroke-width="2"/>
<text x="45" y="1480" font-size="14" font-weight="bold">TaP5CS1</text>
<rect x="62" y="1530" width="958" height="13" fill="#4a9a4a"/>
<text x="40" y="1542" font-size="14">N</text>
<text x="1025" y="1537" font-size="14">C (716aa)</text>
<g stroke="#000" stroke-width="1.5">
<line x1="174" y1="1515" x2="174" y2="1530"/><line x1="195" y1="1515" x2="195" y2="1530"/><line x1="230" y1="1515" x2="230" y2="1530"/><line x1="297" y1="1515" x2="297" y2="1530"/><line x1="332" y1="1515" x2="332" y2="1530"/><line x1="437" y1="1515" x2="437" y2="1530"/><line x1="475" y1="1515" x2="475" y2="1530"/><line x1="589" y1="1515" x2="589" y2="1530"/><line x1="641" y1="1515" x2="641" y2="1530"/><line x1="665" y1="1515" x2="665" y2="1530"/><line x1="832" y1="1515" x2="832" y2="1530"/><line x1="956" y1="1515" x2="956" y2="1530"/><line x1="992" y1="1515" x2="992" y2="1530"/>
</g>
<g font-size="14" text-anchor="middle">
<text x="160" y="1486">K219</text><text x="204" y="1486" fill="#e02020" font-weight="bold">K221</text><text x="241" y="1486" fill="#e02020" font-weight="bold">K231</text>
<text x="295" y="1486">K282</text><text x="337" y="1486">K291</text><text x="437" y="1486">K371</text><text x="480" y="1486">K388</text>
<text x="590" y="1486">K479</text><text x="637" y="1486">K500</text><text x="677" y="1486">K504</text><text x="836" y="1486" fill="#e02020" font-weight="bold">K634</text>
<text x="955" y="1486">K704</text><text x="995" y="1486">K711</text>
</g>
<g font-size="14" text-anchor="middle" fill="#d02060">
<text x="174" y="1506">ac</text><text x="198" y="1506">ac</text><text x="231" y="1508">ac</text><text x="297" y="1506">ac</text><text x="332" y="1506">ac</text><text x="437" y="1506">ac</text><text x="476" y="1506">ac</text><text x="590" y="1506">ac</text><text x="642" y="1506">ac</text><text x="666" y="1506">ac</text><text x="832" y="1506">ac</text><text x="956" y="1506">ac</text><text x="993" y="1506">ac</text>
</g>
</svg>
</body></html>
